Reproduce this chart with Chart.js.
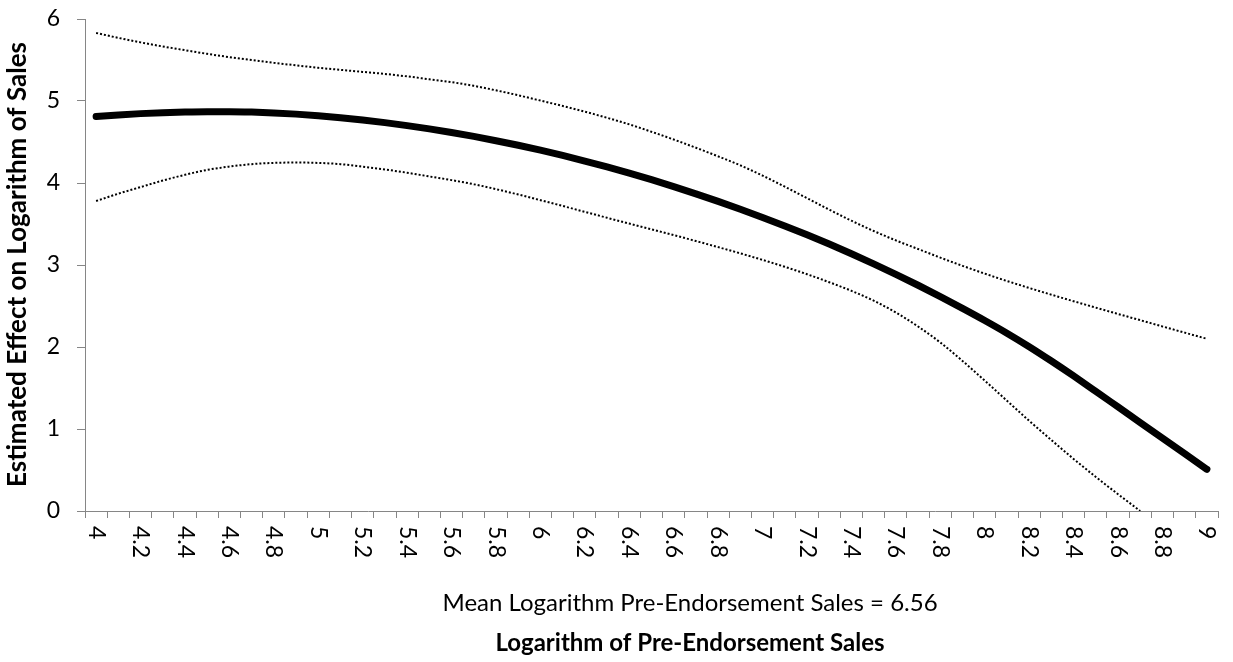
<!DOCTYPE html>
<html>
<head>
<meta charset="utf-8">
<script src="https://cdn.jsdelivr.net/npm/chart.js@4.4.1/dist/chart.umd.min.js"></script>
<style>
  html, body { margin: 0; padding: 0; background: #ffffff; }
  canvas { display: block; }
</style>
</head>
<body>
<canvas id="chart" width="1233" height="662"></canvas>
<script>
// Logarithm of pre-endorsement sales, one category every 0.1
const categories = [
  '4','4.1','4.2','4.3','4.4','4.5','4.6','4.7','4.8','4.9',
  '5','5.1','5.2','5.3','5.4','5.5','5.6','5.7','5.8','5.9',
  '6','6.1','6.2','6.3','6.4','6.5','6.6','6.7','6.8','6.9',
  '7','7.1','7.2','7.3','7.4','7.5','7.6','7.7','7.8','7.9',
  '8','8.1','8.2','8.3','8.4','8.5','8.6','8.7','8.8','8.9',
  '9'
];

// Categories that carry a printed tick label
const tickLabels = [
  '4','4.2','4.4','4.6','4.8','5','5.2','5.4','5.6','5.8',
  '6','6.2','6.4','6.6','6.8','7','7.2','7.4','7.6','7.8',
  '8','8.2','8.4','8.6','8.8','9'
];

// Estimated effect on logarithm of sales
const estimate = [
  4.81, 4.83, 4.846, 4.858, 4.866, 4.87, 4.87, 4.865, 4.855, 4.84,
  4.82, 4.796, 4.768, 4.736, 4.70, 4.66, 4.616, 4.568, 4.516, 4.46,
  4.40, 4.336, 4.268, 4.196, 4.12, 4.04, 3.956, 3.868, 3.776, 3.68,
  3.58, 3.476, 3.368, 3.255, 3.137, 3.014, 2.886, 2.753, 2.615, 2.472,
  2.324, 2.169, 2.004, 1.829, 1.647, 1.459, 1.269, 1.079, 0.889, 0.699,
  0.509
];

// Upper confidence bound
const upperBound = [
  5.83, 5.77, 5.715, 5.665, 5.62, 5.575, 5.535, 5.50, 5.465, 5.435,
  5.405, 5.38, 5.355, 5.33, 5.30, 5.265, 5.23, 5.185, 5.13, 5.07,
  5.005, 4.94, 4.87, 4.795, 4.715, 4.625, 4.53, 4.43, 4.325, 4.215,
  4.09, 3.955, 3.815, 3.675, 3.54, 3.415, 3.30, 3.195, 3.09, 2.99,
  2.895, 2.805, 2.72, 2.638, 2.558, 2.48, 2.403, 2.327, 2.251, 2.175,
  2.10
];

// Lower confidence bound (runs out through the zero line past 8.7)
const lowerBound = [
  3.78, 3.87, 3.95, 4.03, 4.10, 4.16, 4.20, 4.23, 4.245, 4.25,
  4.245, 4.23, 4.20, 4.165, 4.125, 4.08, 4.035, 3.985, 3.925, 3.86,
  3.79, 3.72, 3.648, 3.576, 3.505, 3.435, 3.365, 3.292, 3.218, 3.142,
  3.062, 2.978, 2.888, 2.79, 2.685, 2.565, 2.42, 2.25, 2.055, 1.83,
  1.59, 1.345, 1.10, 0.865, 0.635, 0.415, 0.205, 0.0, null, null,
  null
];

const yTitle = 'Estimated Effect on Logarithm of Sales';
const xTitle = 'Logarithm of Pre-Endorsement Sales';
const meanNote = 'Mean Logarithm Pre-Endorsement Sales = 6.56';

const FONT = 'Lato';
const AXIS_GREY = '#868686';
const TICK_SIZE = 23;
const TITLE_SIZE = 24;
const Y_TITLE_SIZE = 26;

// X tick labels turned a quarter clockwise, read top to bottom
const rotatedXLabels = {
  id: 'rotatedXLabels',
  afterDraw(chart) {
    const scale = chart.scales.x;
    const ctx = chart.ctx;
    ctx.save();
    ctx.font = TICK_SIZE + 'px ' + FONT;
    ctx.fillStyle = '#000000';
    ctx.textAlign = 'left';
    ctx.textBaseline = 'middle';
    categories.forEach((label, i) => {
      if (!tickLabels.includes(label)) return;
      ctx.save();
      ctx.translate(scale.getPixelForTick(i), scale.top + 15);
      ctx.rotate(Math.PI / 2);
      ctx.fillText(label, 0, 0);
      ctx.restore();
    });
    ctx.restore();
  }
};

// Axis titles and the note on the mean, placed around the plot
const axisTexts = {
  id: 'axisTexts',
  afterDraw(chart) {
    const area = chart.chartArea;
    const ctx = chart.ctx;
    ctx.save();
    ctx.fillStyle = '#000000';

    // vertical title, reading bottom to top, ending near the top of the plot
    ctx.save();
    ctx.font = 'bold ' + Y_TITLE_SIZE + 'px ' + FONT;
    ctx.textAlign = 'right';
    ctx.textBaseline = 'alphabetic';
    ctx.translate(26, area.top + 23);
    ctx.rotate(-Math.PI / 2);
    ctx.fillText(yTitle, 0, 0);
    ctx.restore();

    // horizontal note and title under the tick labels
    const cx = area.left + (area.right - area.left) * 0.534;
    ctx.textAlign = 'center';
    ctx.textBaseline = 'middle';
    ctx.font = TITLE_SIZE + 'px ' + FONT;
    ctx.fillText(meanNote, cx, area.bottom + 92);
    ctx.font = 'bold ' + TITLE_SIZE + 'px ' + FONT;
    ctx.fillText(xTitle, cx, area.bottom + 132);
    ctx.restore();
  }
};

const dotted = {
  borderColor: '#000000',
  borderWidth: 2,
  borderDash: [2, 2],
  pointRadius: 0,
  pointHoverRadius: 0,
  fill: false,
  cubicInterpolationMode: 'monotone'
};

new Chart(document.getElementById('chart'), {
  type: 'line',
  data: {
    labels: categories,
    datasets: [
      Object.assign({ label: 'Upper bound', data: upperBound }, dotted),
      Object.assign({ label: 'Lower bound', data: lowerBound }, dotted),
      {
        label: 'Estimated effect',
        data: estimate,
        borderColor: '#000000',
        borderWidth: 7,
        borderCapStyle: 'round',
        borderJoinStyle: 'round',
        pointRadius: 0,
        pointHoverRadius: 0,
        fill: false,
        cubicInterpolationMode: 'monotone'
      }
    ]
  },
  options: {
    responsive: false,
    devicePixelRatio: 1,
    animation: false,
    events: [],
    layout: { padding: { left: 0, right: 15, top: 19, bottom: 0 } },
    plugins: {
      legend: { display: false },
      tooltip: { enabled: false },
      title: { display: false },
      subtitle: { display: false }
    },
    scales: {
      x: {
        type: 'category',
        offset: true,
        grid: {
          offset: true,
          drawOnChartArea: false,
          drawTicks: true,
          tickLength: 7,
          color: AXIS_GREY,
          lineWidth: 1
        },
        border: { display: true, color: AXIS_GREY, width: 1 },
        ticks: { display: false, autoSkip: false },
        afterFit(scale) {
          scale.height = 151;
          scale.paddingLeft = 0;
          scale.paddingRight = 0;
        }
      },
      y: {
        min: 0,
        max: 6,
        grid: {
          drawOnChartArea: false,
          drawTicks: true,
          tickLength: 8,
          color: AXIS_GREY,
          lineWidth: 1
        },
        border: { display: true, color: AXIS_GREY, width: 1 },
        ticks: {
          stepSize: 1,
          padding: 17,
          color: '#000000',
          font: { family: FONT, size: TICK_SIZE, lineHeight: 1.2 }
        },
        afterFit(scale) {
          scale.width = 85;
          scale.paddingTop = 0;
          scale.paddingBottom = 0;
        }
      }
    }
  },
  plugins: [rotatedXLabels, axisTexts]
});
</script>
</body>
</html>
